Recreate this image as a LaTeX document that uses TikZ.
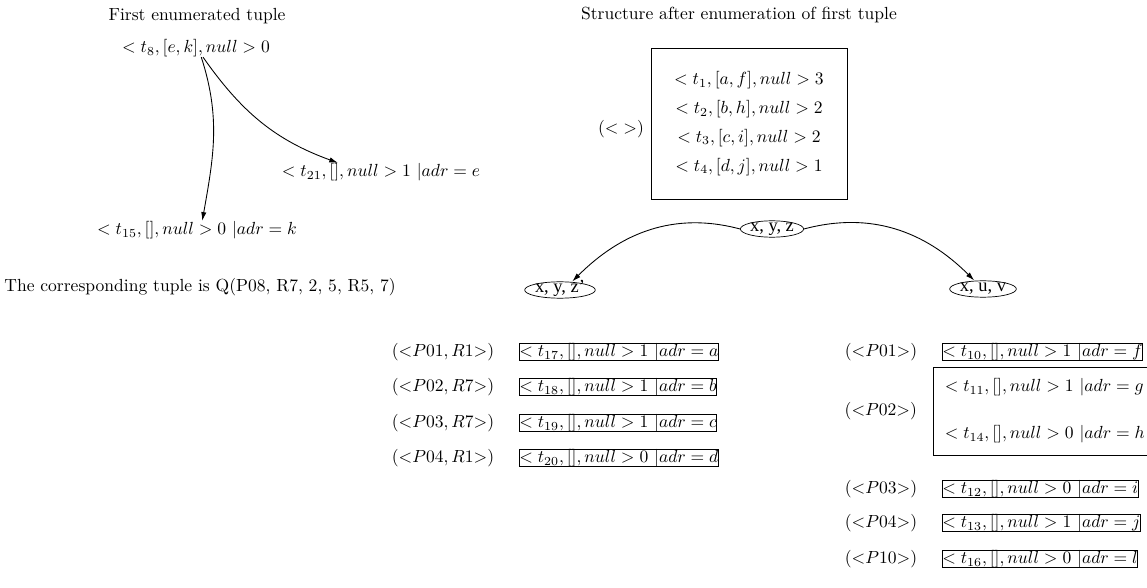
\documentclass[tikz,border=0pt]{standalone}
\usepackage{fontspec}
\newfontfamily\dotfont{Liberation Serif}
\usetikzlibrary{arrows.meta, positioning, shapes.geometric}

\begin{document}
\begin{tikzpicture}[
    x = 0.57pt, y = 0.57pt,
    > = {Latex[length=5pt, width=3pt]},
    caption/.style = {inner sep=0pt},
    tuple/.style   = {inner sep=0pt},
    rowbox/.style  = {draw, inner sep=0pt, anchor=west},
    plabel/.style  = {inner sep=0pt},
    gvnode/.style  = {draw, ellipse, inner sep=0pt, font=\dotfont\fontsize{10.5}{12}\selectfont,
                      text height=4.6pt, text depth=2pt},
    link/.style    = {->, line width=0.5pt},
]
\useasboundingbox (0,0) rectangle (1147,-588);

% -------------------------------------------- first tuple --------------------------------------------
\node[caption] (head1) at (197,-16)  {First enumerated tuple};
\node[tuple]   (t8)    at (196,-48)  {$< t_8, [e, k], null > 0$};
\node[tuple]   (t21)   at (381,-172) {$< t_{21}, [], null > 1\ |adr = e$};
\node[tuple]   (t15)   at (197,-230) {$< t_{15}, [], null > 0\ |adr = k$};
\node[caption, anchor=west] (res) at (4,-287) {The corresponding tuple is Q(P08, R7, 2, 5, R5, 7)};

\draw[link] ([xshift=3pt]t8.south) to[out=-72, in=80]  ([xshift=3pt]t15.north);
\draw[link] ([xshift=4pt]t8.south) to[out=-55, in=160] ([xshift=-24.5pt]t21.north);

% --------------------------------------------- structure ---------------------------------------------
\node[caption] (head2) at (739,-15) {Structure after enumeration of first tuple};
\node[draw, minimum width=111.7pt, minimum height=86pt, align=center, inner sep=0pt] (root) at (749,-123.5)
    {$< t_1, [a, f], null > 3$\\[4.5pt]
     $< t_2, [b, h], null > 2$\\[4.5pt]
     $< t_3, [c, i], null > 2$\\[4.5pt]
     $< t_4, [d, j], null > 1$};
\node[plabel] (rootlbl) at (621,-129) {$(<\;>)$};

% ---------------------------------------------- indices ----------------------------------------------
\node[gvnode, minimum width=36pt] (xyz)  at (772,-229) {x, y, z};
\node[gvnode, minimum width=40pt] (xyzp) at (560,-290) {x, y, z’};
\node[gvnode, minimum width=38pt] (xuv)  at (983,-289) {x, u, v};

\draw[link] (xyz.west) to[out=165, in=45]  ([xshift=7pt]xyzp.north);
\draw[link] (xyz.east) to[out=15,  in=135] ([xshift=-5pt]xuv.north);

% -------------------------------------------- left buckets -------------------------------------------
\node[rowbox] (l1) at (519,-352) {$< t_{17}, [], null > 1\ |adr = a$};
\node[rowbox] (l2) at (519,-387) {$< t_{18}, [], null > 1\ |adr = b$};
\node[rowbox] (l3) at (519,-423) {$< t_{19}, [], null > 1\ |adr = c$};
\node[rowbox] (l4) at (519,-458) {$< t_{20}, [], null > 0\ |adr = d$};

\node[plabel, left=14pt of l1] (l1lbl) {$({<}P01, R1{>})$};
\node[plabel, left=14pt of l2] (l2lbl) {$({<}P02, R7{>})$};
\node[plabel, left=14pt of l3] (l3lbl) {$({<}P03, R7{>})$};
\node[plabel, left=14pt of l4] (l4lbl) {$({<}P04, R1{>})$};

% -------------------------------------------- right buckets ------------------------------------------
\node[rowbox] (r1) at (942,-352) {$< t_{10}, [], null > 1\ |adr = f$};
\node[draw, anchor=west, align=left, text width=118pt, inner xsep=6.5pt, inner ysep=0pt,
      minimum height=50pt] (r2) at (933,-411)
    {$< t_{11}, [], null > 1\ |adr = g$\\[14.8pt]
     $< t_{14}, [], null > 0\ |adr = h$};
\node[rowbox] (r3) at (942,-489) {$< t_{12}, [], null > 0\ |adr = i$};
\node[rowbox] (r4) at (942,-523) {$< t_{13}, [], null > 1\ |adr = j$};
\node[rowbox] (r5) at (942,-559) {$< t_{16}, [], null > 0\ |adr = l$};

\node[plabel, left=14pt of r1] (r1lbl) {$({<}P01{>})$};
\node[plabel, left=9pt of r2]  (r2lbl) {$({<}P02{>})$};
\node[plabel, left=14pt of r3] (r3lbl) {$({<}P03{>})$};
\node[plabel, left=14pt of r4] (r4lbl) {$({<}P04{>})$};
\node[plabel, left=14pt of r5] (r5lbl) {$({<}P10{>})$};

\end{tikzpicture}
\end{document}
